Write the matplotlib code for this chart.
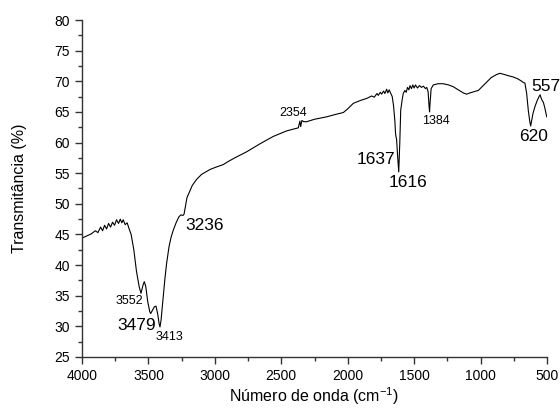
import numpy as np
import matplotlib
matplotlib.use('Agg')
import matplotlib.pyplot as plt

plt.rcParams['font.family'] = ['Liberation Sans', 'DejaVu Sans']
plt.rcParams['mathtext.fontset'] = 'custom'
plt.rcParams['mathtext.rm'] = 'Liberation Sans'

# espectro FTIR (número de onda, transmitância)
wavenumber = [
    4000, 3960, 3930, 3900, 3880, 3860, 3845, 3830, 3815, 3800, 3785, 3770,
    3755, 3740, 3725, 3712, 3700, 3690, 3675, 3660, 3645, 3630, 3610, 3590,
    3570, 3556, 3540, 3531, 3520, 3505, 3490, 3483, 3470, 3455, 3443, 3430,
    3420, 3413, 3405, 3390, 3375, 3363, 3345, 3330, 3313, 3290, 3270, 3255,
    3240, 3232, 3220, 3210, 3190, 3170, 3137, 3100, 3037, 2990, 2937, 2900,
    2850, 2760, 2660, 2560, 2460, 2372, 2360, 2354, 2345, 2330, 2309, 2250,
    2158, 2090, 2033, 2000, 1958, 1900, 1857, 1820, 1800, 1780, 1770, 1755,
    1745, 1730, 1720, 1707, 1698, 1688, 1675, 1665, 1655, 1645, 1640, 1637,
    1632, 1625, 1616, 1608, 1601, 1590, 1582, 1570, 1560, 1550, 1540, 1531,
    1520, 1510, 1500, 1490, 1475, 1460, 1445, 1430, 1415, 1405, 1395, 1388,
    1384, 1380, 1372, 1356, 1320, 1281, 1240, 1205, 1160, 1130, 1105, 1080,
    1050, 1017, 985, 954, 920, 880, 854, 820, 790, 754, 720, 690,
    678, 666, 653, 641, 630, 623, 615, 605, 590, 575, 560, 552,
    545, 535, 528, 518, 510, 502,
]
transmit = [
    44.4, 44.8, 45.1, 45.6, 45.3, 46.2, 45.6, 46.5, 45.9, 46.8, 46.2, 47.0,
    46.5, 47.4, 46.8, 47.5, 46.9, 47.4, 46.6, 46.9, 45.9, 45.0, 42.5, 39.0,
    36.5, 35.4, 36.8, 37.3, 36.5, 34.0, 32.4, 32.1, 32.6, 33.2, 33.3, 32.0,
    30.5, 29.9, 31.0, 34.5, 38.0, 40.3, 43.0, 44.5, 45.7, 47.0, 47.9, 48.2,
    48.1, 48.3, 49.8, 51.0, 52.0, 53.0, 54.0, 54.8, 55.6, 56.0, 56.4, 56.9,
    57.5, 58.5, 59.8, 61.0, 61.9, 62.4, 63.5, 62.6, 63.6, 63.4, 63.4, 63.8,
    64.2, 64.6, 64.9, 65.5, 66.4, 66.9, 67.2, 67.6, 67.4, 68.0, 67.7, 68.2,
    67.9, 68.4, 68.0, 68.7, 68.1, 68.6, 68.0, 67.5, 66.0, 63.5, 61.5, 61.0,
    60.5, 58.0, 55.2, 60.0, 65.3, 67.0, 68.0, 68.5, 68.2, 69.0, 68.6, 69.3,
    68.8, 69.4, 68.9, 69.4, 68.9, 69.3, 69.0, 69.2, 68.8, 69.0, 68.3, 66.0,
    65.0, 66.5, 68.8, 69.4, 69.6, 69.6, 69.4, 69.1, 68.5, 68.1, 67.9, 68.1,
    68.3, 68.5, 69.2, 69.9, 70.6, 71.1, 71.3, 71.1, 70.9, 70.7, 70.4, 70.0,
    69.8, 69.7, 68.0, 65.3, 63.5, 62.7, 63.6, 64.8, 65.9, 66.8, 67.5, 67.8,
    67.3, 66.8, 66.6, 65.8, 65.0, 64.2,
]

# rótulos dos picos: texto, posição x, posição y, tamanho
peak_text = ['3552', '3479', '3413', '3236', '2354', '1637', '1616', '1384', '620', '557']
peak_x = [3646, 3588, 3343, 3074, 2412, 1791, 1544, 1337, 599, 508]
peak_y = [34.2, 30.2, 28.2, 46.4, 64.9, 57.3, 53.4, 63.5, 61.0, 69.2]
peak_size = [9, 12.5, 9, 12.5, 9, 12.5, 12.5, 9, 12.5, 12.5]

fig = plt.figure(figsize=(5.6, 4.16), dpi=100)
ax = fig.add_axes([82 / 560, 1 - 357 / 416, (547 - 82) / 560, (357 - 20) / 416])

ax.plot(wavenumber, transmit, color='black', lw=0.8)

for t, x, y, s in zip(peak_text, peak_x, peak_y, peak_size):
    ax.text(x, y, t, fontsize=s, ha='center', va='center', clip_on=False)

ax.set_xlim(4000, 500)
ax.set_ylim(25, 80)
ax.set_xticks(np.arange(4000, 499, -500))
ax.set_xticks(np.arange(3750, 500, -500), minor=True)
ax.set_yticks(np.arange(25, 81, 5))
ax.set_yticks(np.arange(27.5, 80, 5), minor=True)

ax.spines['top'].set_visible(False)
ax.spines['right'].set_visible(False)
for sp in ['left', 'bottom']:
    ax.spines[sp].set_color('#333333')
    ax.spines[sp].set_linewidth(1.0)

ax.tick_params(which='major', direction='out', length=5, width=1.0, color='#333333', labelsize=10)
ax.tick_params(which='minor', direction='out', length=3, width=1.0, color='#333333')

ax.set_xlabel(r'Número de onda (cm$^{\mathregular{-1}}$)', fontsize=11.5, labelpad=2)
ax.set_ylabel('Transmitância (%)', fontsize=11.5, labelpad=20)

fig.savefig('out.png', dpi=100)
